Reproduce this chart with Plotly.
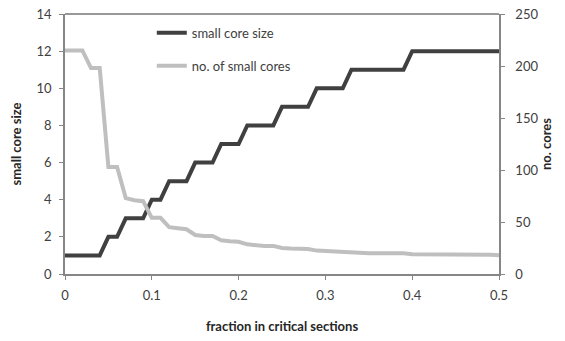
import plotly.graph_objects as go

fraction = [round(i * 0.01, 2) for i in range(51)]
small_core_size = [1, 1, 1, 1, 1, 2, 2, 3, 3, 3,
                   4, 4, 5, 5, 5, 6, 6, 6, 7, 7,
                   7, 8, 8, 8, 8, 9, 9, 9, 9, 10,
                   10, 10, 10, 11, 11, 11, 11, 11, 11, 11,
                   12, 12, 12, 12, 12, 12, 12, 12, 12, 12, 12]
no_small_cores = [215, 215, 215, 198, 198, 103, 103, 73, 71, 70,
                  54, 54, 45, 44, 43, 37.5, 36.5, 36.5, 32.5, 31.5,
                  31, 28.5, 27.5, 27, 27, 25, 24.5, 24.5, 24, 22.5,
                  22, 22, 21.5, 21, 20.5, 20, 20, 20, 20, 20,
                  19, 19, 19, 19, 19, 19, 19, 19, 19, 18.5, 18]

x_ticks = [0, 0.1, 0.2, 0.3, 0.4, 0.5]
x_tick_labels = ["0", "0.1", "0.2", "0.3", "0.4", "0.5"]

FONT = "Lato"
AXIS_COL = "#868686"
TXT = "#404040"
TITLE_COL = "#262626"

fig = go.Figure()
fig.add_trace(go.Scatter(x=fraction, y=small_core_size, name="small core size",
                         mode="lines", line=dict(color="#404040", width=4),
                         legendgroup="a", yaxis="y"))
fig.add_trace(go.Scatter(x=fraction, y=no_small_cores, name="no. of small cores",
                         mode="lines", line=dict(color="#bfbfbf", width=4),
                         legendgroup="b", yaxis="y2"))

fig.update_layout(
    width=565, height=341,
    margin=dict(l=65, r=66, t=14, b=67),
    paper_bgcolor="white", plot_bgcolor="white",
    font=dict(family=FONT, size=13, color=TXT),
    showlegend=True,
    legend=dict(x=0.2, y=0.985, xanchor="left", yanchor="top",
                bgcolor="rgba(0,0,0,0)", font=dict(family=FONT, size=13, color=TXT),
                traceorder="grouped", tracegroupgap=13, itemwidth=30),
    xaxis=dict(range=[0, 0.5], tickvals=x_ticks, ticktext=x_tick_labels,
               automargin=False,
               showgrid=False, zeroline=False, showline=True, linecolor=AXIS_COL,
               linewidth=1.5, ticks="outside", ticklen=4, tickcolor=AXIS_COL,
               ticklabelstandoff=5,
               tickfont=dict(size=13, color=TXT),
               title=dict(text="<b>fraction in critical sections</b>",
                          font=dict(size=13, color=TITLE_COL), standoff=20)),
    yaxis=dict(range=[0, 14], dtick=2, showgrid=False, zeroline=False,
               automargin=False,
               showline=True, linecolor=AXIS_COL, linewidth=1.5,
               ticks="outside", ticklen=4, tickcolor=AXIS_COL,
               ticklabelstandoff=5,
               tickfont=dict(size=13, color=TXT),
               title=dict(text="<b>small core size</b>",
                          font=dict(size=13, color=TITLE_COL), standoff=12)),
    yaxis2=dict(range=[0, 250], dtick=50, overlaying="y", side="right",
                automargin=False,
                showgrid=False, zeroline=False, showline=True, linecolor=AXIS_COL,
                linewidth=1.5, ticks="outside", ticklen=4, tickcolor=AXIS_COL,
                ticklabelstandoff=8,
                tickfont=dict(size=13, color=TXT),
                title=dict(text="<b>no. cores</b>",
                           font=dict(size=13, color=TITLE_COL), standoff=4)),
    shapes=[dict(type="line", xref="paper", yref="paper", x0=0, x1=1, y0=1, y1=1,
                 line=dict(color="#333", width=1))],
)

fig.write_html("out.html")
